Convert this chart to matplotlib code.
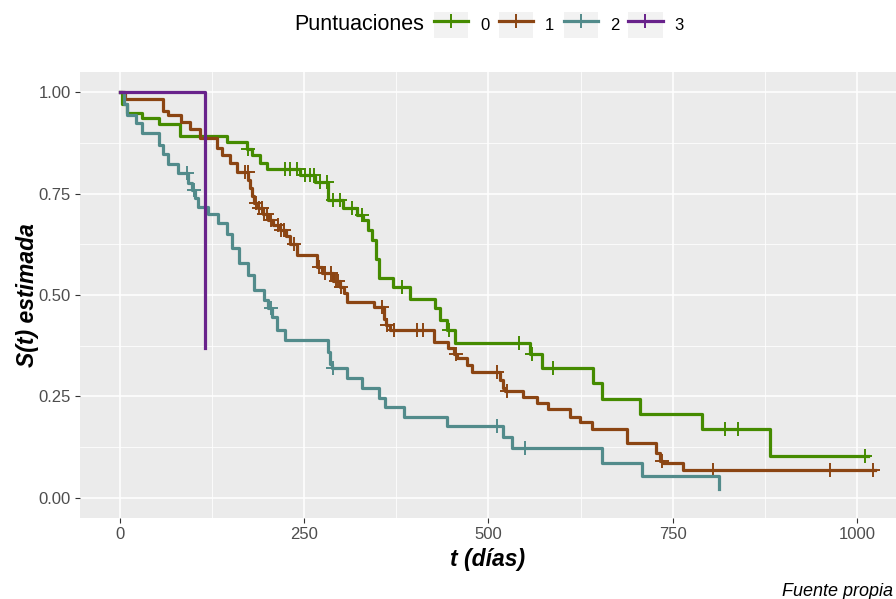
import numpy as np
import matplotlib
matplotlib.use("Agg")
import matplotlib.pyplot as plt
from matplotlib.lines import Line2D
from matplotlib.patches import Rectangle
from matplotlib.legend_handler import HandlerLine2D

plt.rcParams['font.family'] = ['Liberation Sans', 'DejaVu Sans']

# Kaplan-Meier estimates per score group: drop times (days) and S(t) after each drop
groups = ['0', '1', '2', '3']
colors = ['#458B00', '#8B4513', '#528B8B', '#68228B']

t0 = [0, 3, 10, 30, 53, 81, 145, 172, 179, 190, 199, 244, 265, 282, 303, 322, 330, 337,
      342, 347, 351, 370, 393, 427, 434, 444, 455, 556, 573, 642, 654, 706, 790, 882, 1015]
s0 = [1.0, 0.97, 0.948, 0.936, 0.921, 0.892, 0.877, 0.86, 0.845, 0.825, 0.810, 0.796, 0.778,
      0.734, 0.714, 0.697, 0.685, 0.66, 0.635, 0.59, 0.542, 0.52, 0.49, 0.468, 0.438, 0.414,
      0.382, 0.355, 0.32, 0.283, 0.244, 0.207, 0.170, 0.103, 0.103]
c0 = [174, 224, 231, 240, 251, 258, 263, 271, 281, 289, 298, 315, 328, 383, 446, 541, 559,
      588, 821, 839, 1011]

t1 = [0, 7, 58, 65, 83, 95, 109, 132, 138, 149, 159, 174, 176, 179, 182, 187, 194, 201, 208,
      217, 225, 231, 240, 267, 274, 289, 298, 304, 308, 345, 358, 361, 366, 426, 445, 453,
      457, 471, 478, 516, 520, 522, 547, 566, 581, 611, 624, 640, 688, 727, 733, 737, 764, 1024]
s1 = [1.0, 0.983, 0.955, 0.943, 0.926, 0.91, 0.888, 0.862, 0.845, 0.825, 0.803, 0.783, 0.765,
      0.745, 0.727, 0.715, 0.70, 0.685, 0.672, 0.66, 0.645, 0.625, 0.598, 0.57, 0.555, 0.535,
      0.52, 0.505, 0.483, 0.47, 0.44, 0.425, 0.414, 0.384, 0.37, 0.355, 0.345, 0.328, 0.31,
      0.29, 0.27, 0.263, 0.248, 0.234, 0.22, 0.2, 0.187, 0.17, 0.135, 0.11, 0.09, 0.086,
      0.069, 0.069]
c1 = [170, 173, 185, 189, 192, 196, 199, 205, 214, 219, 223, 236, 270, 278, 286, 293, 296,
      300, 355, 362, 372, 403, 411, 456, 512, 525, 735, 805, 963, 1022]

t2 = [0, 5, 9, 22, 30, 53, 58, 65, 79, 92, 98, 102, 106, 119, 133, 145, 152, 161, 174, 182,
      195, 201, 206, 213, 224, 282, 285, 288, 308, 328, 351, 360, 385, 444, 520, 532, 654,
      708, 813]
s2 = [1.0, 0.97, 0.945, 0.923, 0.90, 0.87, 0.847, 0.823, 0.80, 0.776, 0.76, 0.74, 0.716, 0.70,
      0.678, 0.65, 0.615, 0.578, 0.55, 0.512, 0.488, 0.468, 0.446, 0.414, 0.39, 0.36, 0.33,
      0.32, 0.296, 0.27, 0.246, 0.224, 0.2, 0.177, 0.15, 0.123, 0.086, 0.054, 0.022]
c2 = [91, 100, 205, 289, 512, 550]

t3 = [0, 115]
s3 = [1.0, 0.37]
c3 = []

times = [t0, t1, t2, t3]
surv = [s0, s1, s2, s3]
censored = [c0, c1, c2, c3]


class KeyHandler(HandlerLine2D):
    # legend key with a light grey square behind the line, ggplot style
    def create_artists(self, legend, orig_handle, xdescent, ydescent, width, height,
                       fontsize, trans):
        artists = super().create_artists(legend, orig_handle, xdescent, ydescent,
                                         width, height, fontsize, trans)
        bg = Rectangle((-xdescent, -ydescent), width, height, facecolor='#F2F2F2',
                       edgecolor='none', transform=trans)
        return [bg] + list(artists)


W, H = 896, 599
fig = plt.figure(figsize=(W / 100, H / 100), dpi=100)
ax = fig.add_axes([80 / W, (H - 518) / H, (W - 80) / W, (518 - 72) / H])
ax.set_facecolor('#EBEBEB')

for t, s, c, col in zip(times, surv, censored, colors):
    ax.step(t, s, where='post', color=col, lw=2.3, zorder=3)
    if c:
        idx = np.searchsorted(t, c, side='right') - 1
        ax.plot(c, np.array(s)[idx], ls='none', marker='+', ms=9.5, mew=1.4,
                color=col, zorder=3)

ax.set_xlim(-54.3, 1053)
ax.set_ylim(-0.05, 1.05)
ax.set_xticks([0, 250, 500, 750, 1000])
ax.set_xticks([125, 375, 625, 875], minor=True)
ax.set_yticks([0, 0.25, 0.5, 0.75, 1.0])
ax.set_yticklabels(['0.00', '0.25', '0.50', '0.75', '1.00'])
ax.set_yticks([0.125, 0.375, 0.625, 0.875], minor=True)
ax.grid(which='major', color='white', lw=1.1)
ax.grid(which='minor', color='white', lw=0.55)
ax.set_axisbelow(True)
for sp in ax.spines.values():
    sp.set_visible(False)
ax.tick_params(which='major', length=3.5, width=0.8, color='#333333',
               labelcolor='#4D4D4D', labelsize=12, pad=3)
ax.tick_params(which='minor', length=0)

ax.set_xlabel('t (días)', fontsize=16.5, fontweight='bold', fontstyle='italic', labelpad=4)
ax.set_ylabel('S(t) estimada', fontsize=16.5, fontweight='bold', fontstyle='italic',
              labelpad=0)

fig.text(893 / W, 1 - 591 / H, 'Fuente propia', ha='right', va='center',
         fontsize=13, fontstyle='italic')

handles = [Line2D([], [], color=col, lw=2.3, marker='+', ms=9.5, mew=1.4) for col in colors]
fig.legend(handles, groups, loc='center left', bbox_to_anchor=(434 / W, 1 - 25 / H),
           ncol=4, frameon=False, fontsize=12, borderpad=0, borderaxespad=0,
           handlelength=2.05, handleheight=2.05, handletextpad=0.72, columnspacing=0.56,
           numpoints=1, handler_map={Line2D: KeyHandler()})
fig.text(424 / W, 1 - 25 / H, 'Puntuaciones', ha='right', va='center', fontsize=15.5)

fig.savefig('out.png', dpi=100)
